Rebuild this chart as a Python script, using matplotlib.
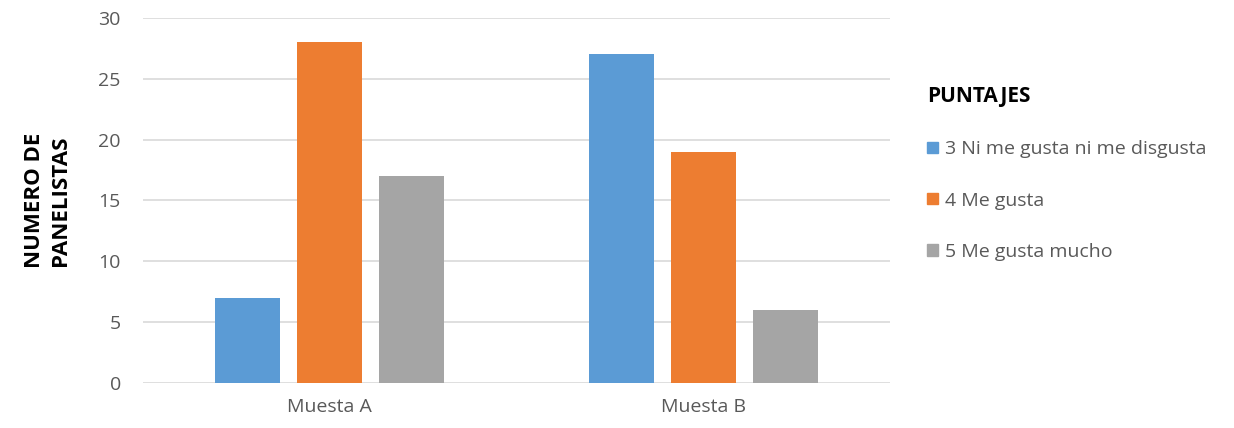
import numpy as np
import matplotlib.pyplot as plt
from matplotlib.patches import Patch

categories = ["Muesta A", "Muesta B"]
series_labels = ["3 Ni me gusta ni me disgusta", "4 Me gusta", "5 Me gusta mucho"]
ni_me_gusta = [7, 27]
me_gusta = [28, 19]
me_gusta_mucho = [17, 6]
yticks = [0, 5, 10, 15, 20, 25, 30]

colors = ["#5B9BD5", "#ED7D31", "#A5A5A5"]
text_color = "#595959"

plt.rcParams["font.family"] = ["Open Sans", "DejaVu Sans"]

fig = plt.figure(figsize=(12.34, 4.28), dpi=100)
ax = fig.add_axes([0.1159, 0.1051, 0.6053, 0.8529])

x = np.arange(len(categories))
width = 0.174
step = 0.2195
for i, (vals, c) in enumerate(zip([ni_me_gusta, me_gusta, me_gusta_mucho], colors)):
    ax.bar(x + (i - 1) * step, vals, width, color=c, zorder=3)

ax.set_xlim(-0.5, 1.5)
ax.set_ylim(0, 30)
ax.set_yticks(yticks)
ax.set_xticks(x)
ax.set_xticklabels(categories)
ax.grid(axis="y", color="#D9D9D9", linewidth=1.2, zorder=0)
for s in ax.spines.values():
    s.set_visible(False)
ax.tick_params(length=0, colors=text_color, labelsize=14)
ax.tick_params(axis="y", pad=16)
ax.tick_params(axis="x", pad=11)

ax.set_ylabel("NUMERO DE\nPANELISTAS", fontsize=16, fontweight="bold",
              color="black", labelpad=20, linespacing=1.3)

handles = [Patch(color=c) for c in colors]
leg = fig.legend(handles, series_labels, loc="upper left",
                 bbox_to_anchor=(0.737, 0.839), frameon=False,
                 title="PUNTAJES", fontsize=14, labelspacing=1.7,
                 handlelength=0.55, handleheight=0.55, handletextpad=0.4,
                 alignment="left")
leg.get_title().set_fontweight("bold")
leg.get_title().set_fontsize(15)
for t in leg.get_texts():
    t.set_color(text_color)

fig.savefig("out.png", dpi=100)
